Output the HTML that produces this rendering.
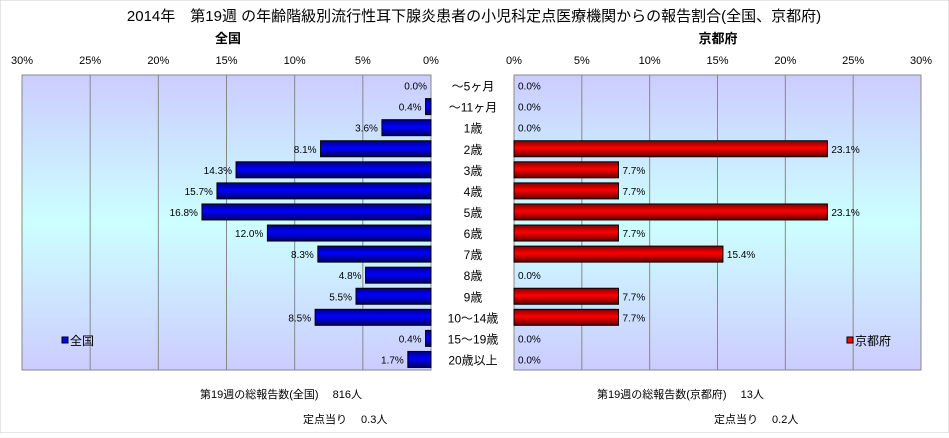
<!DOCTYPE html>
<html><head><meta charset="utf-8">
<style>
body{margin:0;background:#fff;}
svg text{font-family:"Liberation Sans","Noto Sans CJK JP",sans-serif;}
</style></head>
<body>
<svg width="949" height="433" viewBox="0 0 949 433" xmlns="http://www.w3.org/2000/svg">
<defs>
<linearGradient id="bg" x1="0" y1="0" x2="0" y2="1">
<stop offset="0" stop-color="#ccccff"/><stop offset="0.5" stop-color="#ccffff"/><stop offset="1" stop-color="#ccccff"/>
</linearGradient>
<linearGradient id="blue" x1="0" y1="0" x2="0" y2="1">
<stop offset="0" stop-color="#000080"/><stop offset="0.45" stop-color="#0000ff"/><stop offset="1" stop-color="#000060"/>
</linearGradient>
<linearGradient id="red" x1="0" y1="0" x2="0" y2="1">
<stop offset="0" stop-color="#800000"/><stop offset="0.45" stop-color="#ff0000"/><stop offset="1" stop-color="#600000"/>
</linearGradient>
</defs>
<rect width="949" height="433" fill="#fff" stroke="#ccc"/>
<text x="474" y="21" font-size="15" text-anchor="middle">2014年　第19週 の年齢階級別流行性耳下腺炎患者の小児科定点医療機関からの報告割合(全国、京都府)</text>
<text x="228" y="43" font-size="13" font-weight="bold" text-anchor="middle">全国</text>
<text x="718" y="43" font-size="13" font-weight="bold" text-anchor="middle">京都府</text>
<g id="plots"></g>
<text x="200" y="398" font-size="11">第19週の総報告数(全国)　 816人</text>
<text x="303" y="423" font-size="11">定点当り　 0.3人</text>
<text x="597" y="398" font-size="11">第19週の総報告数(京都府)　 13人</text>
<text x="714" y="423" font-size="11">定点当り　 0.2人</text>
</svg>
<script>
const categories=["～5ヶ月","～11ヶ月","1歳","2歳","3歳","4歳","5歳","6歳","7歳","8歳","9歳","10～14歳","15～19歳","20歳以上"];
const nationalValues=[0.0,0.4,3.6,8.1,14.3,15.7,16.8,12.0,8.3,4.8,5.5,8.5,0.4,1.7];
const kyotoValues=[0.0,0.0,0.0,23.1,7.7,7.7,23.1,7.7,15.4,0.0,7.7,7.7,0.0,0.0];
const tickValues=[0,5,10,15,20,25,30];
const NS="http://www.w3.org/2000/svg";
const g=document.getElementById('plots');
const plotTop=75,plotBottom=370,nRows=categories.length,rowH=(plotBottom-plotTop)/nRows,barH=16;
function mk(t,a){const e=document.createElementNS(NS,t);for(const k in a)e.setAttribute(k,a[k]);g.appendChild(e);return e;}
function panel(x0,x1,reverse,vals,fill,name,legendX){
  const w=x1-x0;
  const sx=v=>reverse? x1-v/30*w : x0+v/30*w;
  const bg=mk('rect',{x:x0,y:plotTop,width:w,height:plotBottom-plotTop,fill:'url(#bg)',stroke:'#888'});
  
  
  tickValues.forEach(t=>{
    const x=sx(t);
    const l=mk('line',{x1:x,y1:plotTop,x2:x,y2:plotBottom,stroke:'#888'});
    
    
    const tx=mk('text',{x:x,y:64,'font-size':11,'text-anchor':'middle'});
    tx.textContent=t+'%';
    
    
  });
  vals.forEach((v,i)=>{
    const cy=plotTop+rowH*(i+0.5);
    const base=sx(0),end=sx(v);
    if(v>0){
      const r=mk('rect',{x:Math.min(base,end),y:cy-barH/2,width:Math.abs(end-base),height:barH,fill:fill,stroke:'#000'});
      
      
    }
    const lt=mk('text',{x:reverse?end-4:end+4,y:cy+4,'font-size':10,'text-anchor':reverse?'end':'start'});
    lt.textContent=v.toFixed(1)+'%';
    
    
  });
  const lb=mk('rect',{x:legendX,y:340-3,width:6,height:6,fill:reverse?'#0000ff':'#ff0000',stroke:'#000'});
  
  
  const lt=mk('text',{x:legendX+8,y:345,'font-size':12});
  lt.textContent=reverse?'全国':'京都府';
  
  
}
panel(22,431,true,nationalValues,'url(#blue)','national',62);
panel(514,921,false,kyotoValues,'url(#red)','kyoto',847);
categories.forEach((c,i)=>{
  const t=mk('text',{x:473,y:plotTop+rowH*(i+0.5)+5,'font-size':12,'text-anchor':'middle'});
  t.textContent=c;
  
  
});
</script>
</body></html>
